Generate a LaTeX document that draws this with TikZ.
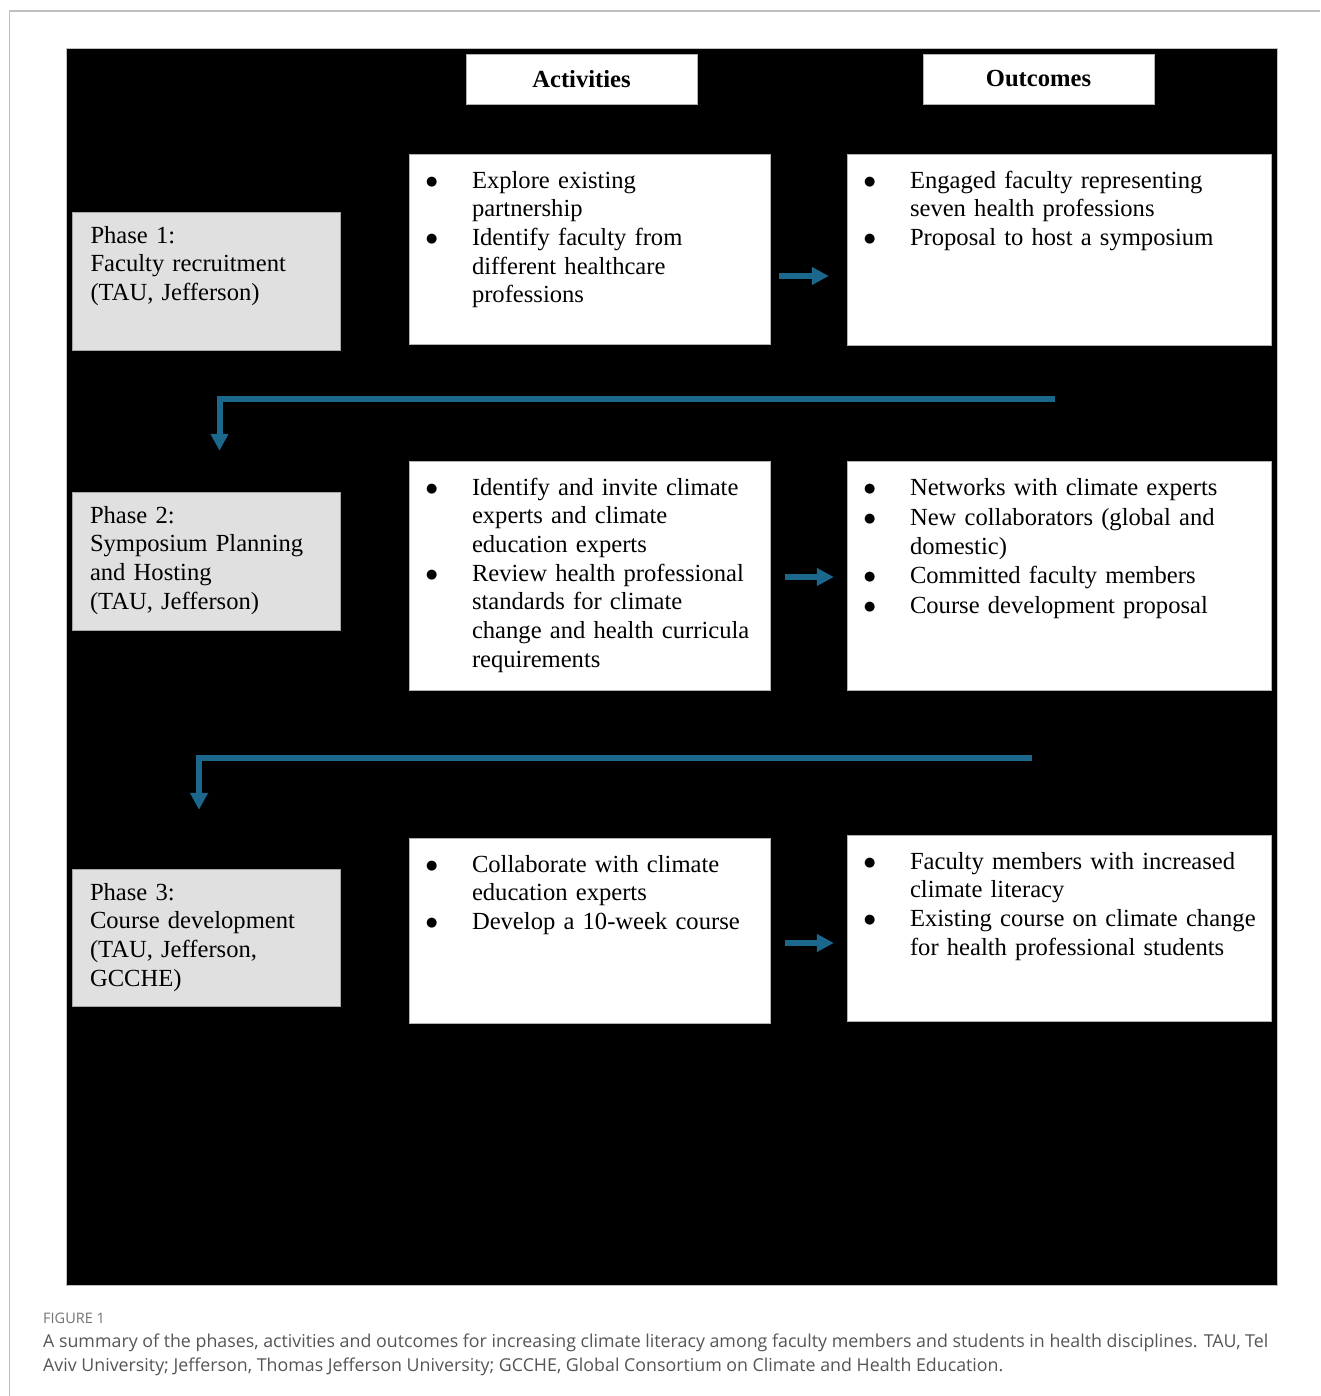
\documentclass[tikz,border=0pt]{standalone}
\usepackage{fontspec}
\setmainfont{Liberation Serif}
\newfontfamily\capfont{Open Sans}
\newfontfamily\dotfont{DejaVu Sans}
\usepackage{tikz}
\usetikzlibrary{positioning,calc,arrows.meta}

\definecolor{flowblue}{RGB}{27,104,140}
\definecolor{phasegray}{RGB}{224,224,224}
\definecolor{framegray}{RGB}{192,192,192}
\definecolor{capgray}{RGB}{85,85,85}

\tikzset{
  headbox/.style={draw=gray!60, fill=white, minimum width=231pt, minimum height=50pt,
    font=\fontsize{24.6}{29}\selectfont\bfseries},
  phasebox/.style={draw=gray!70, fill=phasegray, minimum width=268pt, minimum height=138pt},
  actbox/.style={draw=gray!60, fill=white, minimum width=361pt},
  outbox/.style={draw=gray!60, fill=white, minimum width=424pt},
  boxtext/.style={inner sep=0pt, align=left, text width=#1,
    font=\fontsize{24.6}{28.8}\selectfont},
  flowarrow/.style={draw=flowblue, line width=6pt, -{Triangle[length=17pt,width=17pt]}},
}

\newcommand{\bitem}[1]{\noindent\makebox[44pt][l]{\hspace{-2pt}\raisebox{3pt}{\dotfont\fontsize{13}{13}\selectfont ●}}%
  \parbox[t]{420pt}{\raggedright\strut #1}\par\vskip2pt}

\begin{document}
\begin{tikzpicture}[x=1pt,y=-1pt]
    \useasboundingbox (0,0) rectangle (1320,1396);
    % frame and black panel
    \draw[framegray, line width=1.5pt] (9.5,1396) -- (9.5,11) -- (1320,11);
    \draw[draw=gray!50, fill=black] (66,48) rectangle (1277,1285);

    % column heads
    \node[headbox] (acthead) at (581.5,79) {Activities};
    \node[headbox] (outhead) at (1038.5,79) {Outcomes};

    % Phase 1
    \node[phasebox] (phase1) at (206.5,281) {};
    \node[boxtext=240pt, below right=11pt and 18pt of phase1.north west] (phase1txt)
        {\strut Phase 1:\\Faculty recruitment\\(TAU, Jefferson)};
    \node[actbox, minimum height=190pt] (act1) at (589.5,249) {};
    \node[boxtext=340pt, below right=14pt and 19pt of act1.north west] (act1txt) {%
        \bitem{Explore existing\\partnership}
        \bitem{Identify faculty from\\different healthcare\\professions}};
    \node[outbox, minimum height=191pt] (out1) at (1059,249.5) {};
    \node[boxtext=400pt, below right=14pt and 19pt of out1.north west] (out1txt) {%
        \bitem{Engaged faculty representing\\seven health professions}
        \bitem{Proposal to host a symposium}};

    % Phase 2
    \node[phasebox] (phase2) at (206,561) {};
    \node[boxtext=240pt, below right=11pt and 18pt of phase2.north west] (phase2txt)
        {\strut Phase 2:\\Symposium Planning\\and Hosting\\(TAU, Jefferson)};
    \node[actbox, minimum height=229pt] (act2) at (589.5,575.5) {};
    \node[boxtext=340pt, below right=14pt and 19pt of act2.north west] (act2txt) {%
        \bitem{Identify and invite climate\\experts and climate\\education experts}
        \bitem{Review health professional\\standards for climate\\change and health curricula\\requirements}};
    \node[outbox, minimum height=229pt] (out2) at (1059,575.5) {};
    \node[boxtext=400pt, below right=14pt and 19pt of out2.north west] (out2txt) {%
        \bitem{Networks with climate experts}
        \bitem{New collaborators (global and\\domestic)}
        \bitem{Committed faculty members}
        \bitem{Course development proposal}};

    % Phase 3
    \node[phasebox, minimum height=137pt] (phase3) at (206,937.5) {};
    \node[boxtext=240pt, below right=11pt and 18pt of phase3.north west] (phase3txt)
        {\strut Phase 3:\\Course development\\(TAU, Jefferson,\\GCCHE)};
    \node[actbox, minimum height=185pt] (act3) at (589.5,930.5) {};
    \node[boxtext=340pt, below right=14pt and 19pt of act3.north west] (act3txt) {%
        \bitem{Collaborate with climate\\education experts}
        \bitem{Develop a 10-week course}};
    \node[outbox, minimum height=186pt] (out3) at (1059,928) {};
    \node[boxtext=400pt, below right=14pt and 19pt of out3.north west] (out3txt) {%
        \bitem{Faculty members with increased\\climate literacy}
        \bitem{Existing course on climate change\\for health professional students}};

    % arrows
    \draw[flowarrow, shorten >=18pt] ($(act1.east)+(9,27)$) coordinate (a1) -- (a1 -| out1.west);
    \draw[flowarrow, shorten >=13pt] ($(act2.east)+(15,1.5)$) coordinate (a2) -- (a2 -| out2.west);
    \draw[flowarrow, shorten >=13pt] ($(act3.east)+(15,12.5)$) coordinate (a3) -- (a3 -| out3.west);
    \draw[flowarrow] ($(out1.south)+(-4,54)$) -| ($(phase2.north)+(13.5,-41)$);
    \draw[flowarrow] ($(out2.south)+(-27,68)$) -| ($(phase3.north)+(-7,-59)$);

    % caption
    \node[anchor=base west, inner sep=0pt, text=gray!90!black, font=\capfont\fontsize{14.5}{17}\selectfont]
        (figlabel) at (43,1323) {FIGURE 1};
    \node[anchor=north west, inner sep=0pt, align=left, text=capgray,
          font=\capfont\fontsize{17.8}{24}\selectfont] (caption) at (43,1330)
        {\strut A summary of the phases, activities and outcomes for increasing climate literacy among faculty members and students in health disciplines. TAU, Tel\\
         Aviv University; Jefferson, Thomas Jefferson University; GCCHE, Global Consortium on Climate and Health Education.};
\end{tikzpicture}
\end{document}
